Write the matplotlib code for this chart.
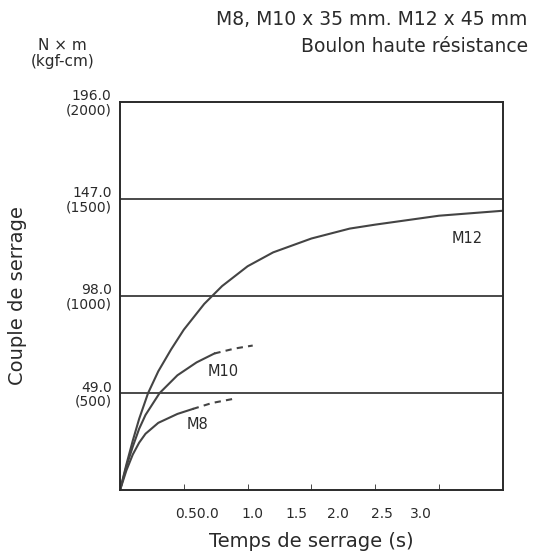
import matplotlib
matplotlib.use("Agg")
import matplotlib.pyplot as plt

# ── data ─────────────────────────────────────────────────────────────
m12_t = [0, 0.05, 0.1, 0.15, 0.22, 0.3, 0.4, 0.5, 0.66, 0.8, 1.0, 1.2, 1.5, 1.8, 2.0, 2.5, 3.0]
m12_v = [0, 13, 25, 36, 49, 60, 71, 81, 94, 103, 113, 120, 127, 132, 134, 138.5, 141]

m10_t = [0, 0.05, 0.1, 0.15, 0.2, 0.31, 0.45, 0.6, 0.74]
m10_v = [0, 12, 22, 31, 38, 49, 58, 64.5, 69]
m10_dash_t = [0.74, 0.9, 1.04]
m10_dash_v = [69, 71.5, 73]

m8_t = [0, 0.05, 0.1, 0.15, 0.2, 0.3, 0.45, 0.57]
m8_v = [0, 10, 18, 24, 28.5, 34, 38.5, 41]
m8_dash_t = [0.57, 0.72, 0.88]
m8_dash_v = [41, 44, 46]

tick_marks = [0.5, 1.0, 1.5, 2.0, 2.5]
label_pos = [0.60, 1.04, 1.38, 1.71, 2.05, 2.36]
x_labels = ["0.50.0", "1.0", "1.5", "2.0", "2.5", "3.0"]
y_ticks = [49, 98, 147, 196]
y_labels = ["49.0\n(500)", "98.0\n(1000)", "147.0\n(1500)", "196.0\n(2000)"]

ink = "#2a2a2a"
plt.rcParams["font.family"] = ["DejaVu Sans"]

fig = plt.figure(figsize=(5.43, 5.59), dpi=100)
ax = fig.add_axes([0.221, 0.123, 0.705, 0.695])

for y in y_ticks[:-1]:
    ax.axhline(y, color=ink, lw=1.2)

kw = dict(color="#444444", lw=1.5)
ax.plot(m12_t, m12_v, **kw)
ax.plot(m10_t, m10_v, **kw)
ax.plot(m10_dash_t, m10_dash_v, ls=(0, (3, 2.5)), **kw)
ax.plot(m8_t, m8_v, **kw)
ax.plot(m8_dash_t, m8_dash_v, ls=(0, (3, 2.5)), **kw)

ax.text(2.6, 127, "M12", fontsize=10.5, color=ink, ha="left", va="center")
ax.text(0.69, 60, "M10", fontsize=10.5, color=ink, ha="left", va="center")
ax.text(0.52, 33, "M8", fontsize=10.5, color=ink, ha="left", va="center")

ax.set_xlim(0, 3.0)
ax.set_ylim(0, 196)
# labels sit where the source printed them, tick marks as minor ticks
ax.set_xticks(label_pos)
ax.set_xticklabels(x_labels, fontsize=10, color=ink)
ax.set_xticks(tick_marks, minor=True)
ax.tick_params(axis="x", which="major", length=0, pad=12)
ax.tick_params(axis="x", which="minor", direction="in", length=4, color=ink)
ax.set_yticks(y_ticks)
ax.set_yticklabels(y_labels, fontsize=10, color=ink, linespacing=1.0)
ax.tick_params(axis="y", length=0, pad=6)
for s in ax.spines.values():
    s.set_color(ink)
    s.set_linewidth(1.4)

ax.set_xlabel("Temps de serrage (s)", fontsize=14, color=ink, labelpad=8)
ax.set_ylabel("Couple de serrage", fontsize=14, color=ink, labelpad=28)

fig.text(0.972, 0.965, "M8, M10 x 35 mm. M12 x 45 mm", fontsize=13.5,
         color=ink, ha="right", va="center")
fig.text(0.972, 0.917, "Boulon haute résistance", fontsize=13.5,
         color=ink, ha="right", va="center")
fig.text(0.115, 0.905, "N × m\n(kgf-cm)", fontsize=11, color=ink,
         ha="center", va="center", linespacing=1.1)

fig.savefig("out.png", dpi=100)
